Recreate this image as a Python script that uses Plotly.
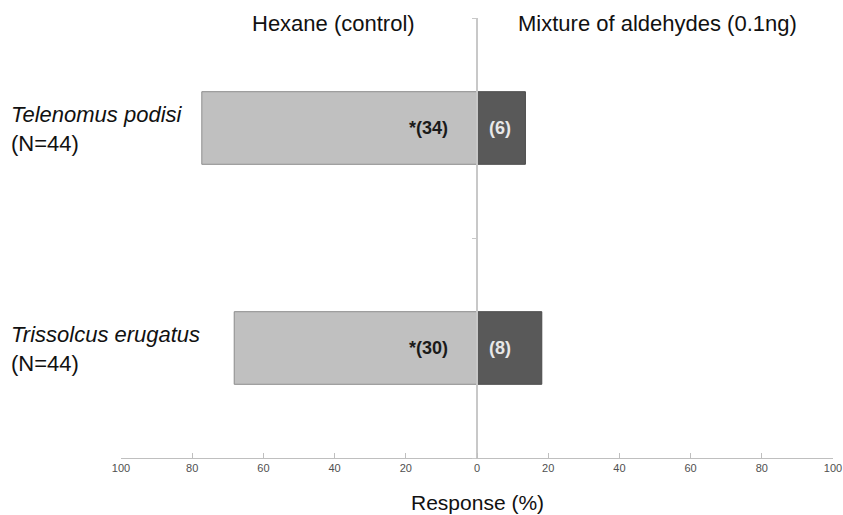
import plotly.graph_objects as go

species = ["Telenomus podisi", "Trissolcus erugatus"]
n_total = [44, 44]
hexane_counts = [34, 30]
aldehyde_counts = [6, 8]
hexane_pct = [77.3, 68.2]
aldehyde_pct = [13.6, 18.2]
tick_vals = [-100, -80, -60, -40, -20, 0, 20, 40, 60, 80, 100]
tick_text = ["100", "80", "60", "40", "20", "0", "20", "40", "60", "80", "100"]
headers = ["Hexane (control)", "Mixture of aldehydes (0.1ng)"]

ypos = list(range(len(species)))

fig = go.Figure()
fig.add_trace(go.Bar(
    y=ypos, x=[-v for v in hexane_pct], base=0, orientation="h", width=0.33,
    marker=dict(color="#c0c0c0", line=dict(color="#8c8c8c", width=1)),
    showlegend=False, hoverinfo="skip"))
fig.add_trace(go.Bar(
    y=ypos, x=aldehyde_pct, base=0, orientation="h", width=0.33,
    marker=dict(color="#595959", line=dict(color="#4a4a4a", width=1)),
    showlegend=False, hoverinfo="skip"))

lab_font = "Liberation Sans Narrow, Arial Narrow, Liberation Sans, Arial, sans-serif"
txt_font = "Liberation Sans, Arial, sans-serif"
for i in ypos:
    fig.add_annotation(x=0, y=i, xref="x", yref="y", text=f"<b>*({hexane_counts[i]})</b>",
                       showarrow=False, xanchor="right", xshift=-27,
                       font=dict(family=lab_font, size=18, color="#1a1a1a"))
    fig.add_annotation(x=0, y=i, xref="x", yref="y", text=f"<b>({aldehyde_counts[i]})</b>",
                       showarrow=False, xanchor="left", xshift=10,
                       font=dict(family=lab_font, size=18, color="#e8e8e8"))
    fig.add_annotation(x=-0.1572, y=i, xref="paper", yref="y",
                       text=f"<i>{species[i]}</i><br>(N={n_total[i]})",
                       showarrow=False, xanchor="left", yanchor="middle", align="left", yshift=-1,
                       font=dict(family=txt_font, size=22, color="#111111"))

fig.add_annotation(x=0.299, y=0.988, xref="paper", yref="paper", text=headers[0], showarrow=False,
                   xanchor="center", yanchor="middle",
                   font=dict(family=txt_font, size=22, color="#111111"))
fig.add_annotation(x=0.753, y=0.988, xref="paper", yref="paper", text=headers[1], showarrow=False,
                   xanchor="center", yanchor="middle",
                   font=dict(family=txt_font, size=22, color="#111111"))
fig.add_annotation(x=0.5, y=-0.102, xref="paper", yref="paper", text="Response (%)", showarrow=False,
                   xanchor="center", yanchor="middle",
                   font=dict(family=txt_font, size=21, color="#111111"))

fig.update_layout(
    width=843, height=515,
    margin=dict(l=121, r=10, t=18, b=57),
    paper_bgcolor="white", plot_bgcolor="white",
    barmode="overlay",
    xaxis=dict(range=[-100, 100], tickmode="array", tickvals=tick_vals, ticktext=tick_text,
               showgrid=False, zeroline=False, showline=True, linecolor="#bfbfbf", linewidth=1,
               ticks="inside", ticklen=5, tickcolor="#bfbfbf", automargin=False,
               tickfont=dict(family=lab_font, size=11, color="#505050")),
    yaxis=dict(range=[1.5, -0.5], tickmode="array", tickvals=[-0.5, 0.5, 1.5],
               showticklabels=False, showgrid=False, zeroline=False,
               showline=True, linecolor="#c8c8c8", linewidth=1.5,
               ticks="outside", ticklen=4, tickcolor="#c8c8c8", automargin=False,
               anchor="free", position=0.5),
)

# remove the default 8px page margin so the 843x515 figure fills the window exactly
fig.write_html("out.html", config={"displayModeBar": False},
               post_script="document.body.style.margin='0';document.body.style.overflow='hidden';")
